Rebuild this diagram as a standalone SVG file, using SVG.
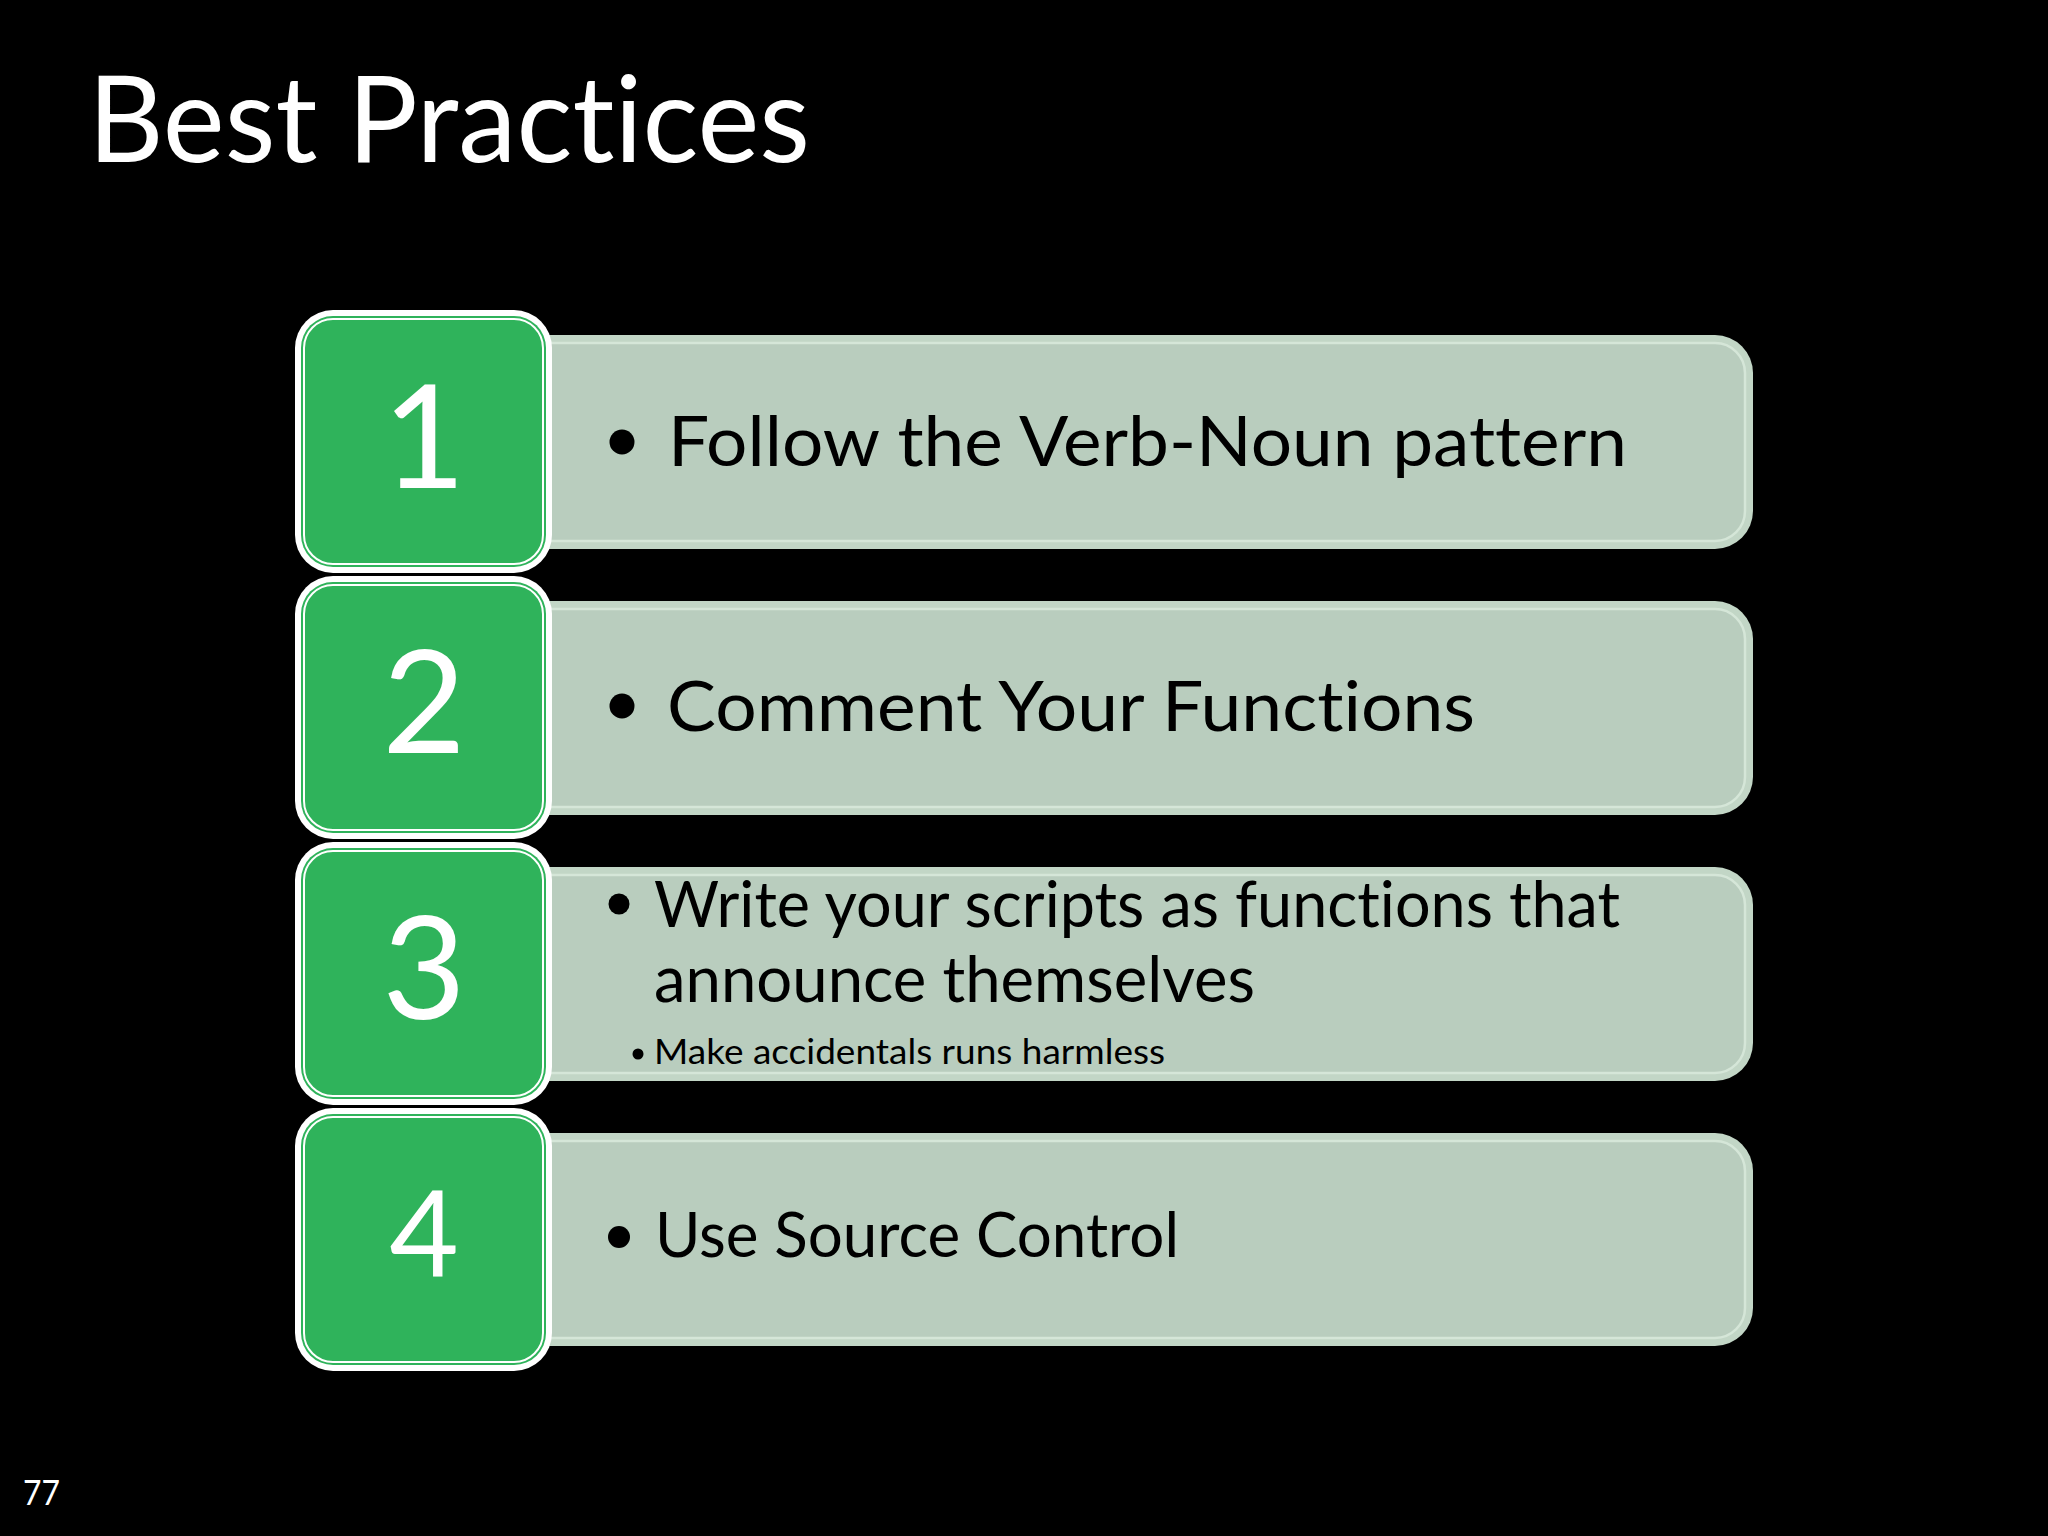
<svg xmlns="http://www.w3.org/2000/svg" width="2048" height="1536" viewBox="0 0 2048 1536">
<style>
text{font-variant-ligatures:none;font-feature-settings:"liga" 0,"clig" 0,"dlig" 0}
.bg{fill:#000}
.title{font-family:Lato,"Liberation Sans",sans-serif;fill:#fff;font-size:121px}
.pOuter{fill:#c2d6c6}
.pLine{fill:#b9cdbe;stroke:#d5e6d8;stroke-width:2.5}
.bOuter{fill:#fff}
.bIn{fill:#2fb35b}
.bLine{fill:none;stroke:#fff;stroke-width:2}
.num{font-family:Lato,"Liberation Sans",sans-serif;fill:#fff;text-anchor:middle}
.txt{font-family:Lato,"Liberation Sans",sans-serif;fill:#000}
.bul{fill:#000}
.pg{font-family:Lato,"Liberation Sans",sans-serif;fill:#fff;font-size:35px}
</style>
<rect class="bg" x="0" y="0" width="2048" height="1536"/>
<text id="title" class="title" x="88" y="162" textLength="722" lengthAdjust="spacingAndGlyphs">Best Practices</text>
<g id="connectors"></g>

<g id="item1">
  <rect class="pOuter" x="500" y="335" width="1253" height="214" rx="38"/>
  <rect class="pLine" x="508" y="343" width="1237" height="198" rx="30"/>
  <rect class="bOuter" x="295" y="310" width="257" height="263" rx="38"/>
  <rect class="bIn" x="301" y="316" width="245" height="251" rx="32"/>
  <rect class="bLine" x="304" y="319" width="239" height="245" rx="29"/>
  <text class="num" x="424" y="488" font-size="144">1</text>
  <circle class="bul" cx="622" cy="442" r="12.5"/>
  <text class="txt" x="668" y="466" font-size="70" textLength="959" lengthAdjust="spacingAndGlyphs">Follow the Verb-Noun pattern</text>
</g>

<g id="item2">
  <rect class="pOuter" x="500" y="601" width="1253" height="214" rx="38"/>
  <rect class="pLine" x="508" y="609" width="1237" height="198" rx="30"/>
  <rect class="bOuter" x="295" y="576" width="257" height="263" rx="38"/>
  <rect class="bIn" x="301" y="582" width="245" height="251" rx="32"/>
  <rect class="bLine" x="304" y="585" width="239" height="245" rx="29"/>
  <text class="num" x="424" y="753" font-size="144">2</text>
  <circle class="bul" cx="622" cy="706" r="12.5"/>
  <text class="txt" x="667" y="731" font-size="70" textLength="808" lengthAdjust="spacingAndGlyphs">Comment Your Functions</text>
</g>

<g id="item3">
  <rect class="pOuter" x="500" y="867" width="1253" height="214" rx="38"/>
  <rect class="pLine" x="508" y="875" width="1237" height="198" rx="30"/>
  <rect class="bOuter" x="295" y="842" width="257" height="263" rx="38"/>
  <rect class="bIn" x="301" y="848" width="245" height="251" rx="32"/>
  <rect class="bLine" x="304" y="851" width="239" height="245" rx="29"/>
  <text class="num" x="424" y="1019" font-size="144">3</text>
  <circle class="bul" cx="619" cy="904" r="10.5"/>
  <text class="txt" x="654" y="927" font-size="63" textLength="966" lengthAdjust="spacingAndGlyphs">Write your scripts as functions that</text>
  <text class="txt" x="654" y="1002" font-size="63" textLength="601" lengthAdjust="spacingAndGlyphs">announce themselves</text>
  <circle class="bul" cx="638" cy="1054" r="5.5"/>
  <text class="txt" x="654" y="1064" font-size="35" textLength="511" lengthAdjust="spacingAndGlyphs">Make accidentals runs harmless</text>
</g>

<g id="item4">
  <rect class="pOuter" x="500" y="1133" width="1253" height="213" rx="38"/>
  <rect class="pLine" x="508" y="1141" width="1237" height="197" rx="30"/>
  <rect class="bOuter" x="295" y="1108" width="257" height="263" rx="38"/>
  <rect class="bIn" x="301" y="1114" width="245" height="251" rx="32"/>
  <rect class="bLine" x="304" y="1117" width="239" height="245" rx="29"/>
  <text class="num" x="424" y="1277" font-size="120">4</text>
  <circle class="bul" cx="619" cy="1237" r="11"/>
  <text class="txt" x="655" y="1257" font-size="61" textLength="524" lengthAdjust="spacingAndGlyphs">Use Source Control</text>
</g>

<text id="page" class="pg" x="23" y="1505" textLength="37" lengthAdjust="spacingAndGlyphs">77</text>
</svg>
